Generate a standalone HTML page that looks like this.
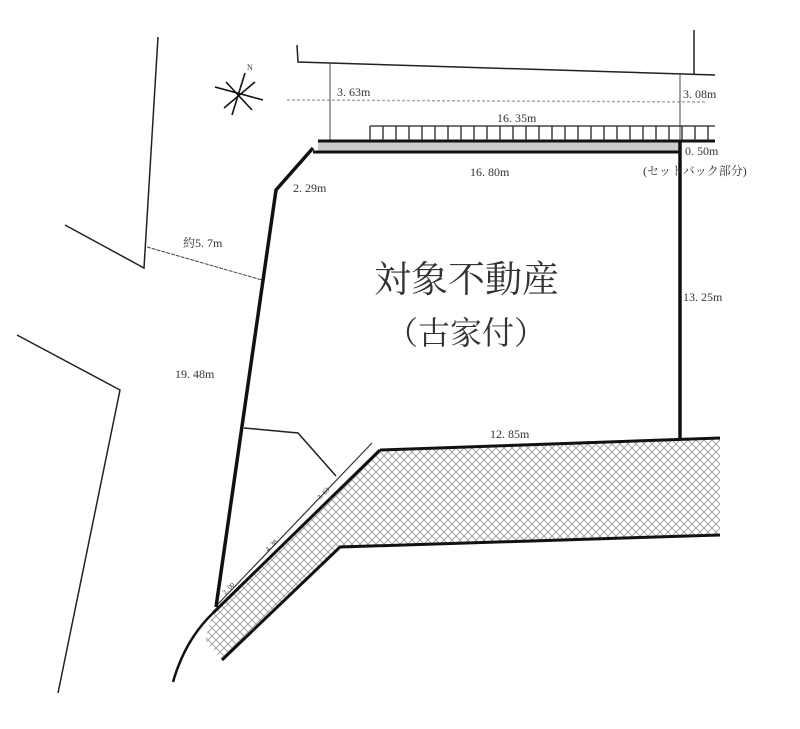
<!DOCTYPE html>
<html><head><meta charset="utf-8"><style>
html,body{margin:0;padding:0;background:#fff;}
svg{display:block}
text{font-family:"Liberation Serif","Noto Serif CJK SC",serif;fill:#333;}
</style></head><body>
<svg width="800" height="729" viewBox="0 0 800 729" xmlns="http://www.w3.org/2000/svg">
<defs>
<pattern id="hx" width="8" height="8" patternUnits="userSpaceOnUse">
<path d="M0 0L8 8M8 0L0 8" stroke="#999" stroke-width="0.9"/>
</pattern>
</defs>
<path d="M380 450 L720 438 L720 535 L340 547 L222 660 L205 640 L213 613 Z" fill="url(#hx)"/>
<path d="M380 450 L720 438 M213 613 L380 450" stroke="#111" stroke-width="3" fill="none"/>
<path d="M720 535 L340 547 L222 660" stroke="#111" stroke-width="3" fill="none"/>
<path d="M213 613 Q185 640 173 682" stroke="#111" stroke-width="2.5" fill="none"/>
<path d="M218 604 L372 443" stroke="#333" stroke-width="1.2"/>
<g stroke="#222" stroke-width="1.5" fill="none">
<path d="M158 37 L144 268 L65 225"/>
<path d="M17 335 L120 390 L58 693"/>
<path d="M244 428 L298 433 L336 476"/>
<path d="M297 45 L298 62 L715 75"/>
<path d="M694 30 L694 74"/>
</g>
<line x1="147" y1="247" x2="262" y2="280" stroke="#444" stroke-width="1" stroke-dasharray="4 1"/>
<line x1="287" y1="100" x2="705" y2="102" stroke="#aaa" stroke-width="1.5" stroke-dasharray="3 2"/>
<line x1="330" y1="63" x2="330" y2="140" stroke="#444" stroke-width="1"/>
<line x1="680" y1="73" x2="680" y2="140" stroke="#444" stroke-width="1"/>
<g stroke="#222" stroke-width="1.3">
<line x1="370" y1="126" x2="715" y2="126"/>
<line x1="370" y1="126" x2="370" y2="148"/>
</g>
<rect x="318" y="141" width="362" height="11" fill="#ccc"/>
<path d="M318 141 L715 141" stroke="#111" stroke-width="3"/>
<path d="M313 152 L680 152" stroke="#111" stroke-width="3"/>
<path d="M313 148 L276 190 L216 607" stroke="#111" stroke-width="3.5" fill="none"/>
<path d="M680 141 L680 438" stroke="#111" stroke-width="3.5"/>
<g stroke="#111" stroke-width="1.6">
<line x1="215" y1="87" x2="263" y2="100"/>
<line x1="232" y1="115" x2="245" y2="73"/>
<line x1="224" y1="108" x2="255" y2="82"/>
<line x1="226" y1="82" x2="252" y2="110"/>
</g>
<text x="247" y="70" font-size="8">N</text>
<g font-size="12">
<text x="337" y="96">3. 63m</text>
<text x="683" y="98">3. 08m</text>
<text x="497" y="122">16. 35m</text>
<text x="470" y="176">16. 80m</text>
<text x="685" y="155">0. 50m</text>
<text x="643" y="175">(セットバック部分)</text>
<text x="293" y="192">2. 29m</text>
<text x="183" y="247">約5. 7m</text>
<text x="175" y="378">19. 48m</text>
<text x="683" y="301">13. 25m</text>
<text x="490" y="438">12. 85m</text>
</g>
<g font-size="7" fill="#555">
<text transform="translate(320 500) rotate(-45)">3. 63</text>
<text transform="translate(268 552) rotate(-45)">4. 38</text>
<text transform="translate(225 595) rotate(-45)">2. 00</text>
</g>
<text x="374" y="292" font-size="37" font-family="Liberation Sans,'Noto Sans CJK JP',sans-serif">対象不動産</text>
<text x="386" y="344" font-size="32" font-family="Liberation Sans,'Noto Sans CJK JP',sans-serif">（古家付）</text>
<g stroke="#222" stroke-width="1.3">
<line x1="383" y1="126" x2="383" y2="141"/><line x1="396" y1="126" x2="396" y2="141"/><line x1="409" y1="126" x2="409" y2="141"/><line x1="422" y1="126" x2="422" y2="141"/><line x1="435" y1="126" x2="435" y2="141"/><line x1="448" y1="126" x2="448" y2="141"/><line x1="461" y1="126" x2="461" y2="141"/><line x1="474" y1="126" x2="474" y2="141"/><line x1="487" y1="126" x2="487" y2="141"/><line x1="500" y1="126" x2="500" y2="141"/><line x1="513" y1="126" x2="513" y2="141"/><line x1="526" y1="126" x2="526" y2="141"/><line x1="539" y1="126" x2="539" y2="141"/><line x1="552" y1="126" x2="552" y2="141"/><line x1="565" y1="126" x2="565" y2="141"/><line x1="578" y1="126" x2="578" y2="141"/><line x1="591" y1="126" x2="591" y2="141"/><line x1="604" y1="126" x2="604" y2="141"/><line x1="617" y1="126" x2="617" y2="141"/><line x1="630" y1="126" x2="630" y2="141"/><line x1="643" y1="126" x2="643" y2="141"/><line x1="656" y1="126" x2="656" y2="141"/><line x1="669" y1="126" x2="669" y2="141"/><line x1="682" y1="126" x2="682" y2="141"/><line x1="695" y1="126" x2="695" y2="141"/><line x1="708" y1="126" x2="708" y2="141"/>
</g>
</svg>
</body></html>
